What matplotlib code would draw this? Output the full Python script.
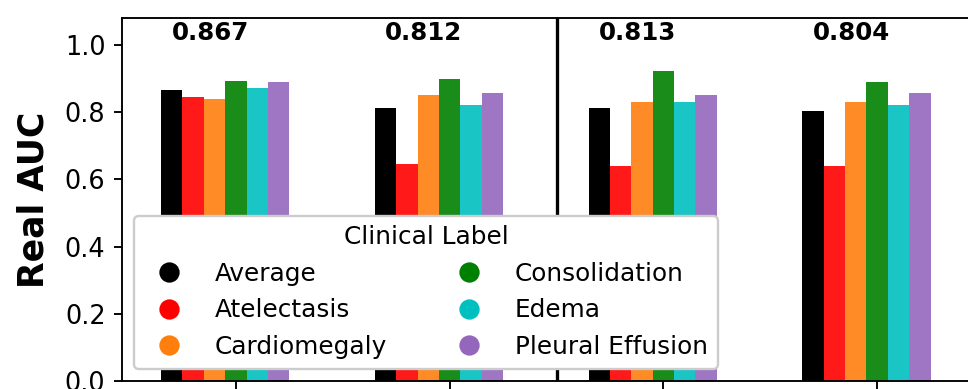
import numpy as np
import matplotlib
matplotlib.use("Agg")
import matplotlib.pyplot as plt
from matplotlib.lines import Line2D

# valeurs
groups = ["", "", "", ""]
labels = ["Average", "Atelectasis", "Cardiomegaly", "Consolidation", "Edema", "Pleural Effusion"]
colors = ["black", "red", "tab:orange", "green", "c", "tab:purple"]

average = [0.867, 0.812, 0.813, 0.804]
atelectasis = [0.846, 0.645, 0.640, 0.640]
cardiomegaly = [0.840, 0.852, 0.831, 0.831]
consolidation = [0.894, 0.900, 0.922, 0.890]
edema = [0.873, 0.820, 0.831, 0.820]
pleural = [0.889, 0.857, 0.852, 0.857]

series = [average, atelectasis, cardiomegaly, consolidation, edema, pleural]

dpi = 170
fig = plt.figure(figsize=(968 / dpi, 389 / dpi), dpi=dpi)
ax = fig.add_axes([122 / 968, 8 / 389, 869 / 968, 363 / 389])

x = np.arange(len(groups))
w = 0.1
for j, (vals, c) in enumerate(zip(series, colors)):
    a = 1.0 if c == "black" else 0.9
    ax.bar(x + (j - 3) * w, vals, width=w, color=c, alpha=a)

# moyenne au-dessus de chaque groupe
for i, v in enumerate(average):
    ax.text(x[i] - 0.12, 1.036, f"{v:.3f}", ha="center", va="center",
            fontsize=10.4, fontweight="bold")

ax.axvline(1.5, color="black", lw=1.4)

ax.set_xlim(-0.533, 3.533)
ax.set_ylim(0, 1.08)
ax.set_xticks(x)
ax.set_xticklabels(groups)
ax.set_yticks([0.0, 0.2, 0.4, 0.6, 0.8, 1.0])
ax.tick_params(labelsize=10.8)
ax.set_ylabel("Real AUC", fontsize=14.7, fontweight="bold", labelpad=6)

handles = [Line2D([], [], marker="o", ls="", color=c, markersize=7.6) for c in colors]
ax.legend(handles, labels, title="Clinical Label", ncol=2, loc="lower left",
          fontsize=10.5, title_fontsize=10.5, handletextpad=0.85,
          columnspacing=2.3, framealpha=1)

fig.savefig("out.png", dpi=dpi)
